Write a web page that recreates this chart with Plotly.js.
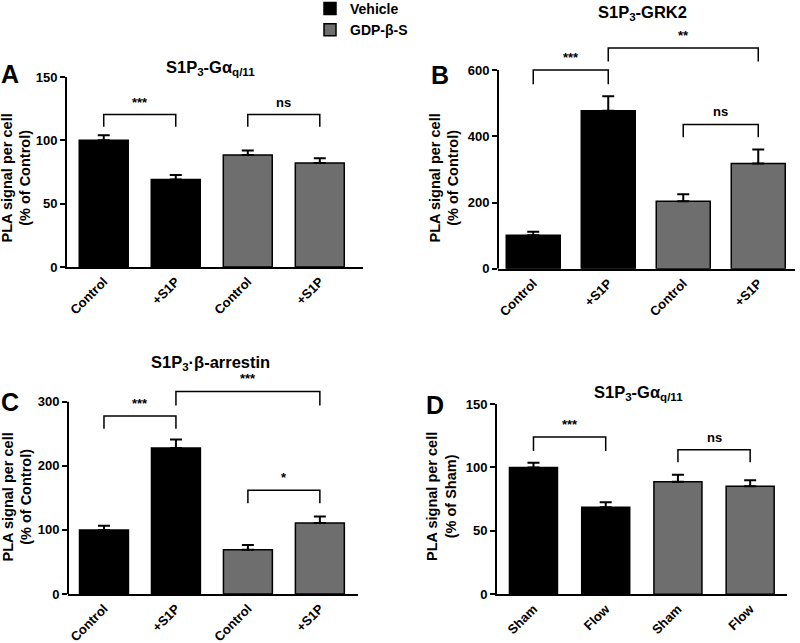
<!DOCTYPE html>
<html><head><meta charset="utf-8">
<script src="https://cdn.plot.ly/plotly-3.0.1.min.js"></script>
<style>html,body{margin:0;padding:0;background:#fff}#chart{width:800px;height:643px}</style>
</head><body><div id="chart"></div>
<script>
// ---- data ----
const seriesNames = ['Vehicle', 'GDP-β-S'];
const catsAC = ['Control', '+S1P', 'Control', '+S1P'];
const catsD = ['Sham', 'Flow', 'Sham', 'Flow'];

const valsA = [100, 69, 88.5, 82.2];
const errA = [4, 3.7, 3.5, 3.6];
const valsB = [101, 477, 204, 318];
const errB = [11, 44, 21, 42];
const valsC = [100, 228, 69, 110.7];
const errC = [6.6, 13, 7.4, 10.3];
const valsD = [100, 68.6, 88.7, 85.1];
const errD = [3.7, 3.9, 5.6, 4.7];

// significance brackets: [from bar, to bar, top value, drop, label]
const sigA = [[0, 1, 120.3, 9.5, '***'], [2, 3, 120.3, 9.5, 'ns']];
const sigB = [[0, 1, 600, 43, '***'], [1, 3, 667, 41, '**'], [2, 3, 436, 39, 'ns']];
const sigC = [[0, 1, 277.7, 20, '***'], [1, 3, 316, 22, '***'], [2, 3, 161.7, 20, '*']];
const sigD = [[0, 1, 124, 11, '***'], [2, 3, 114, 10, 'ns']];

const titleA = 'S1P<sub>3</sub>-Gα<sub>q/11</sub>';
const titleB = 'S1P<sub>3</sub>-GRK2';
const titleC = 'S1P<sub>3</sub>·β-arrestin';
const titleD = 'S1P<sub>3</sub>-Gα<sub>q/11</sub>';
const yTitleCtrl = 'PLA signal per cell<br>(% of Control)';
const yTitleSham = 'PLA signal per cell<br>(% of Sham)';

// ---- styling ----
const FONT = 'Liberation Sans, Arial, Helvetica, sans-serif';
const colors = ['#000000', '#6e6e6e'];
const W = 800, H = 643;

const panels = [
  {ax: '', vals: valsA, err: errA, cats: catsAC, sig: sigA, yr: [0, 150], yticks: [0, 50, 100, 150], yline: 150,
   xdom: [67, 363], ydom: [267, 77], xr: [-0.51, 3.6], bw: 0.68, ytitle: yTitleCtrl, ytpos: [16.5, 178],
   title: titleA, tpos: [210, 68], letter: 'A', lpos: [10, 74], legend: true},
  {ax: '2', vals: valsB, err: errB, cats: catsAC, sig: sigB, yr: [0, 720], yticks: [0, 200, 400, 600], yline: 600,
   xdom: [498, 795], ydom: [268.7, 30.4], xr: [-0.47, 3.49], bw: 0.72, ytitle: yTitleCtrl, ytpos: [444.5, 178],
   title: titleB, tpos: [642, 13], letter: 'B', lpos: [440, 75]},
  {ax: '3', vals: valsC, err: errC, cats: catsAC, sig: sigC, yr: [0, 345], yticks: [0, 100, 200, 300], yline: 300,
   xdom: [68, 358], ydom: [594, 372.9], xr: [-0.5, 3.53], bw: 0.68, ytitle: yTitleCtrl, ytpos: [16.5, 497],
   title: titleC, tpos: [210, 363], letter: 'C', lpos: [10, 402]},
  {ax: '4', vals: valsD, err: errD, cats: catsD, sig: sigD, yr: [0, 150], yticks: [0, 50, 100, 150], yline: 150,
   xdom: [497, 787], ydom: [594.3, 404], xr: [-0.505, 3.51], bw: 0.665, ytitle: yTitleSham, ytpos: [441, 497],
   title: titleD, tpos: [638, 393], letter: 'D', lpos: [435, 405]}
];

const traces = [];
const layout = {
  width: W, height: H,
  margin: {l: 0, r: 0, t: 0, b: 0, autoexpand: false},
  paper_bgcolor: '#fff', plot_bgcolor: 'rgba(0,0,0,0)',
  font: {family: FONT, color: '#000'},
  barmode: 'overlay',
  showlegend: true,
  legend: {x: 310 / W, y: 1.011, xanchor: 'left', yanchor: 'top', bgcolor: 'rgba(0,0,0,0)',
           font: {size: 14, weight: 'bold', family: FONT}, tracegroupgap: 0},
  shapes: [], annotations: []
};

panels.forEach(p => {
  const xa = 'x' + p.ax, ya = 'y' + p.ax;
  const xk = 'xaxis' + p.ax, yk = 'yaxis' + p.ax;
  [[0, 1], [2, 3]].forEach((idx, g) => {
    traces.push({
      type: 'bar', xaxis: xa, yaxis: ya,
      x: idx, y: idx.map(i => p.vals[i]), width: p.bw,
      name: seriesNames[g], showlegend: !!p.legend,
      marker: {color: colors[g], line: {color: '#000', width: 1.5}},
      error_y: {type: 'data', symmetric: false, array: idx.map(i => p.err[i]), arrayminus: idx.map(() => 0),
                color: '#000', thickness: 2, width: 6},
      hoverinfo: 'skip'
    });
  });
  const customLine = p.yr[1] > p.yline;
  layout[xk] = {
    domain: [p.xdom[0] / W, p.xdom[1] / W], range: p.xr, anchor: ya,
    tickvals: [0, 1, 2, 3], ticktext: p.cats, tickangle: -45, ticks: '',
    showline: true, linewidth: 2, linecolor: '#000', showgrid: false, zeroline: false,
    tickfont: {size: 13, weight: 'bold', family: FONT}, fixedrange: true, automargin: false
  };
  layout[yk] = {
    domain: [1 - p.ydom[0] / H, 1 - p.ydom[1] / H], range: p.yr, anchor: xa,
    tickvals: p.yticks, ticks: 'outside', ticklen: 5, tickwidth: 2, tickcolor: '#000',
    showline: !customLine, linewidth: 2, linecolor: '#000', showgrid: false, zeroline: false,
    tickfont: {size: 13, weight: 'bold', family: FONT}, fixedrange: true, automargin: false
  };
  if (customLine) {
    layout.shapes.push({type: 'line', xref: xa + ' domain', yref: ya, x0: 0, x1: 0, y0: 0, y1: p.yline,
                        line: {color: '#000', width: 2}});
  }
  p.sig.forEach(s => {
    const [a, b, top, drop, lab] = s;
    layout.shapes.push({type: 'path', xref: xa, yref: ya,
      path: `M${a},${top - drop} L${a},${top} L${b},${top} L${b},${top - drop}`,
      line: {color: '#000', width: 1.5}});
    layout.annotations.push({xref: xa, yref: ya, x: (a + b) / 2, y: top, yanchor: 'bottom', yshift: 3,
      text: lab, showarrow: false, font: {size: 13, weight: 'bold', family: FONT}});
  });
  // y-axis title
  layout.annotations.push({xref: 'paper', yref: 'paper', x: p.ytpos[0] / W, y: 1 - p.ytpos[1] / H,
    xanchor: 'center', yanchor: 'middle', textangle: -90, text: p.ytitle, showarrow: false,
    font: {size: 14.5, weight: 'bold', family: FONT}});
  layout.annotations.push({xref: 'paper', yref: 'paper', x: p.tpos[0] / W, y: 1 - p.tpos[1] / H,
    xanchor: 'center', yanchor: 'middle', text: p.title, showarrow: false,
    font: {size: 16.5, weight: 'bold', family: FONT}});
  layout.annotations.push({xref: 'paper', yref: 'paper', x: p.lpos[0] / W, y: 1 - p.lpos[1] / H,
    xanchor: 'center', yanchor: 'middle', text: p.letter, showarrow: false,
    font: {size: 25, weight: 'bold', family: FONT}});
});

Plotly.newPlot('chart', traces, layout, {displayModeBar: false, staticPlot: true});
</script>
</body></html>
